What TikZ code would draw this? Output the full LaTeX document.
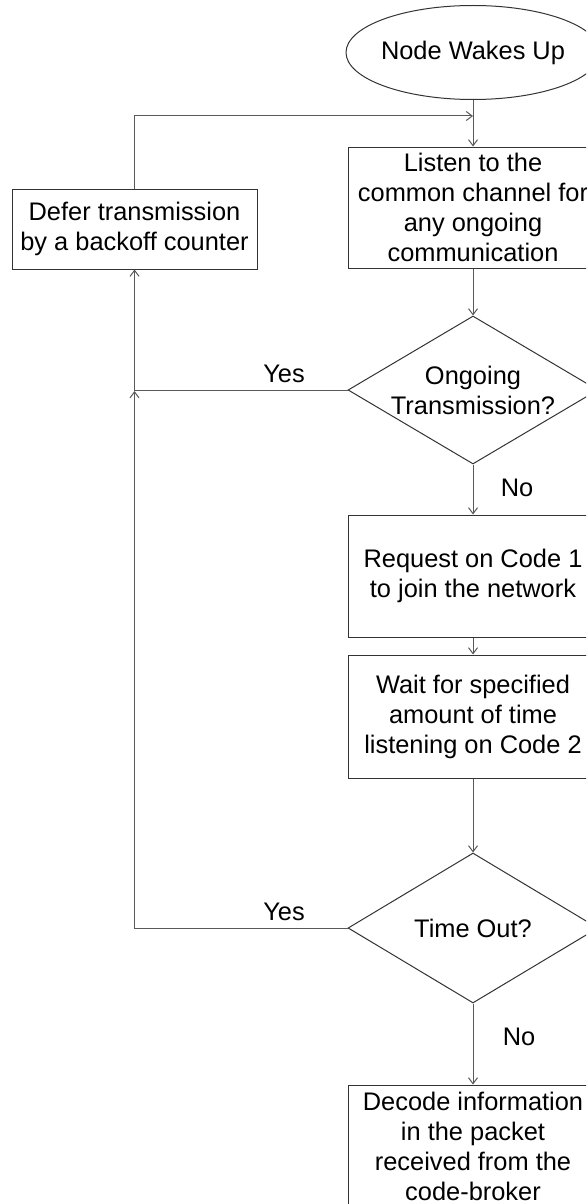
\documentclass[tikz,border=0pt]{standalone}
\usepackage{fontspec}
\setmainfont{Liberation Sans}
\usetikzlibrary{shapes.geometric,arrows.meta}

\begin{document}
\begin{tikzpicture}[x=0.5pt,y=-0.5pt,
    every node/.style={font=\fontsize{12.7}{15}\selectfont},
    stepbox/.style={draw=black!80, line width=0.5pt, align=center, inner sep=0pt, minimum width=125pt},
    decision/.style={diamond, draw=black!80, line width=0.5pt, inner sep=0pt, minimum width=125pt, minimum height=74pt},
    txt/.style={align=center, inner sep=0pt},
    flow/.style={draw=black!65, line width=0.5pt, -{Straight Barb[length=3pt,width=4.5pt]}}]
    \useasboundingbox (0,0) rectangle (586,1204);
    \clip (0,0) rectangle (586,1204);

    % Start and steps
    \node[ellipse, draw=black!80, line width=0.5pt, inner sep=0pt, minimum width=127pt, minimum height=47pt] (wake) at (473,52.5) {\makebox[0pt]{Node Wakes Up}};
    \node[stepbox, minimum height=60.5pt] (listen) at (473,207.5) {Listen to the\\common channel for\\any ongoing\\communication};
    \node[stepbox, minimum width=122.5pt, minimum height=40pt] (defer) at (134.5,229) {Defer transmission\\by a backoff counter};
    \node[decision, label={[txt]center:{Ongoing\\Transmission?}}] (ongoing) at (473,390) {};
    \node[stepbox, minimum height=61pt] (request) at (473,576) {Request on Code 1\\to join the network};
    \node[stepbox, minimum height=61.5pt] (wait) at (473,716.5) {Wait for specified\\amount of time\\listening on Code 2};
    \node[decision, minimum height=75pt, label={[txt]center:Time Out?}] (timeout) at (473,928) {};
    \node[stepbox, minimum height=61pt] (decode) at (473,1146) {Decode information\\in the packet\\received from the\\code-broker};

    % Branch labels
    \node[txt] (yes1) at (284,374) {Yes};
    \node[txt] (no1) at (517,488) {No};
    \node[txt] (yes2) at (284,912) {Yes};
    \node[txt] (no2) at (519,1037) {No};

    % Main flow
    \draw[flow] (wake) -- (listen);
    \draw[flow] (listen) -- (ongoing);
    \draw[flow] (ongoing) -- (request);
    \draw[flow] (request) -- (wait);
    \draw[flow] (wait) -- (timeout);
    \draw[flow] (timeout) -- (decode);

    % Back-off loop
    \coordinate (merge) at (473,116);
    \coordinate (join) at (134.5,391);
    \draw[flow] (defer.north) |- (merge);
    \draw[flow] (ongoing.west) -| (defer.south);
    \draw[flow] (timeout.west) -| (join);
\end{tikzpicture}
\end{document}
